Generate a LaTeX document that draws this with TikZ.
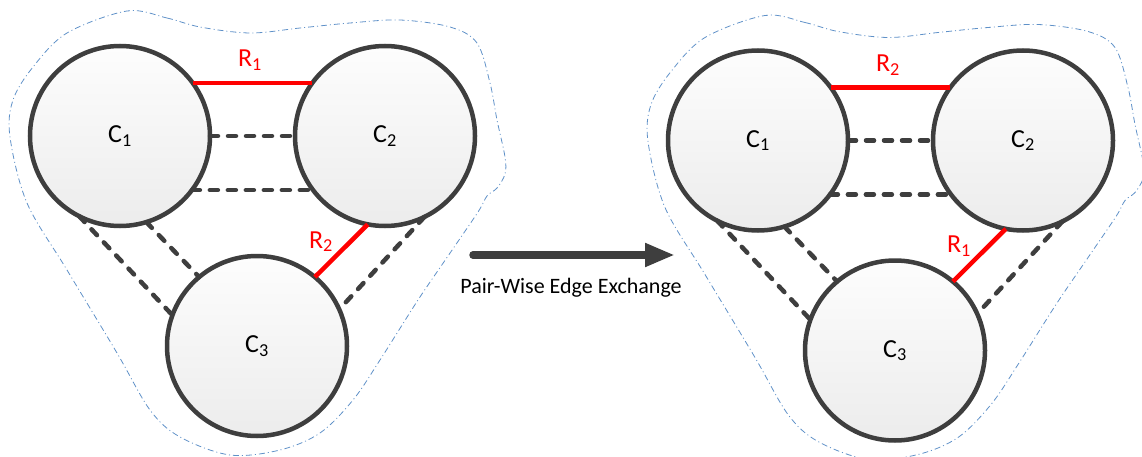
\documentclass[tikz,border=0pt]{standalone}
\usepackage{fontspec}
\setmainfont{Carlito}
\usetikzlibrary{arrows.meta}
\definecolor{dk}{RGB}{62,62,62}
\definecolor{bnd}{RGB}{95,145,200}
\definecolor{topc}{RGB}{253,253,253}
\definecolor{botc}{RGB}{236,236,236}
\tikzset{
 cl/.style={circle, draw=dk, line width=4.5pt, minimum size=180pt, inner sep=0pt, outer sep=0pt,
   top color=topc, bottom color=botc, font=\fontsize{26}{30}\selectfont},
 rlink/.style={draw=red, line width=4.5pt},
 dlink/.style={draw=dk, line width=4.5pt, dash pattern=on 8pt off 10pt, line cap=round},
 rlab/.style={text=red, font=\fontsize{26}{30}\selectfont, anchor=base, inner sep=0pt},
 bound/.style={draw=bnd, line width=0.8pt, dash pattern=on 6pt off 3pt on 1pt off 3pt},
 bigarrow/.style={draw=dk, line width=7.5pt, line cap=round, -{Triangle[length=30pt,width=22pt]}},
}
\newcommand{\drawpanel}[4]{%
 \begin{scope}[shift={#2}]
  \draw[bound] plot[smooth cycle, tension=0.55] coordinates {
   (127,11) (167,18) (200,27) (250,33) (300,28) (350,23) (400,20) (450,27) (477,43)
   (490,83) (497,120) (505,157) (505,174) (497,188) (487,196) (478,212) (448,256)
   (418,300) (380,360) (353,400) (320,433) (280,450) (230,455) (180,437) (150,410)
   (117,353) (67,270) (27,203) (10,137) (13,100) (33,67) (67,33)};
  \node[cl] (#1a) at (120,136) {C\textsubscript{1}};
  \node[cl] (#1b) at (385,136) {C\textsubscript{2}};
  \node[cl] (#1c) at (257,346) {C\textsubscript{3}};
  \draw[rlink] (#1a.36) -- (#1b.144);
  \draw[rlink] (#1b.-101) -- (#1c.50);
  \draw[dlink] (#1a.east) -- (#1b.west);
  \draw[dlink] (#1a.-37) -- (#1b.217);
  \draw[dlink] (#1a.243) -- (#1c.160);
  \draw[dlink] (#1a.-73) -- (#1c.130);
  \draw[dlink] (#1b.-64) -- (#1c.24);
  \node[rlab] (#1r) at (250,67) {R\textsubscript{#3}};
  \node[rlab] (#1s) at (321,248) {R\textsubscript{#4}};
 \end{scope}}
\begin{document}
\begin{tikzpicture}[x=1pt,y=-1pt]
 \useasboundingbox (0,0) rectangle (1142,457);
 \clip (0,0) rectangle (1142,457);
 \drawpanel{L}{(0,0)}{1}{2}
 \drawpanel{R}{(638,4.5)}{2}{1}
 \coordinate (as) at (473,255);
 \coordinate (ae) at (675,255);
 \draw[bigarrow] (as) -- (ae);
 \node[font=\fontsize{22}{26}\selectfont, anchor=base, inner sep=0pt] (albl) at (571,293) {Pair-Wise Edge Exchange};
\end{tikzpicture}
\end{document}
